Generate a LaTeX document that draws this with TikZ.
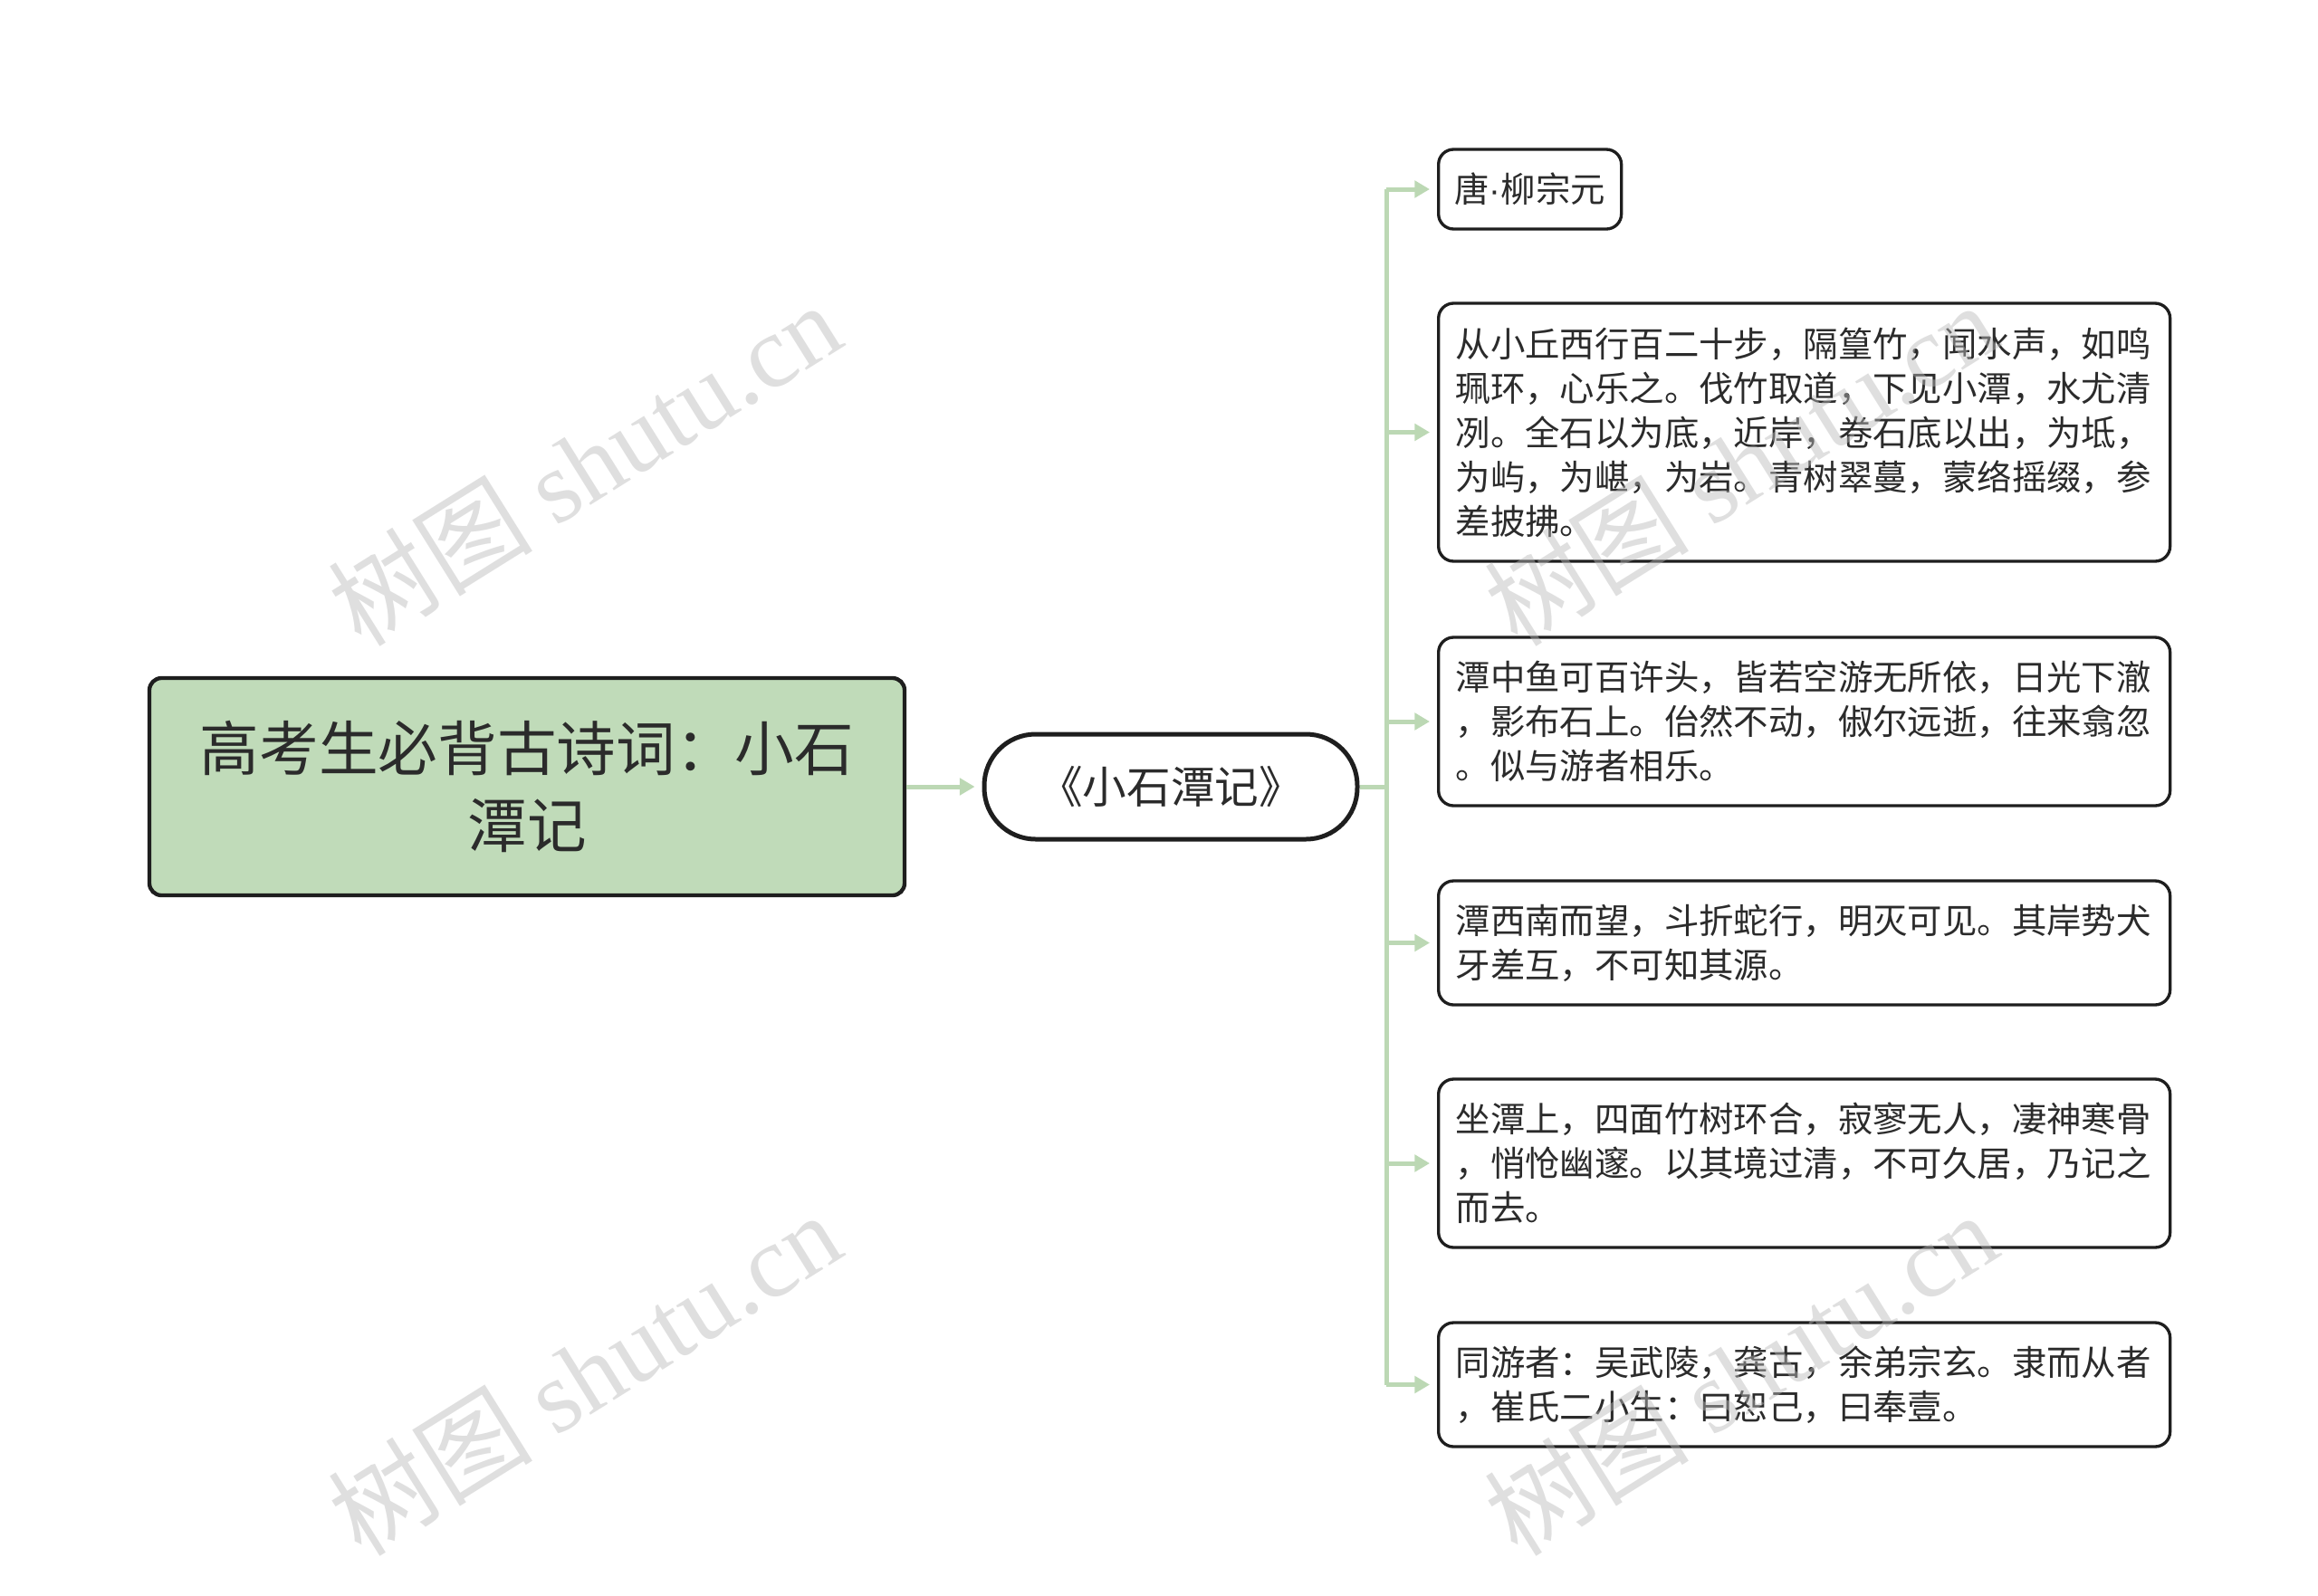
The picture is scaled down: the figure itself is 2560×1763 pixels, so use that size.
\documentclass[tikz,border=0pt]{standalone}
\usepackage{fontspec}
\setmainfont{Noto Sans CJK SC}
\newfontfamily\wmlatin{Liberation Serif}
\newfontfamily\dotfont{Liberation Sans}
\newfontfamily\wmcjk{Noto Sans CJK SC}
\usetikzlibrary{arrows.meta}
\definecolor{rootfill}{HTML}{C0DBB9}
\definecolor{connclr}{HTML}{BCD8B4}
\definecolor{txt}{HTML}{2B2B2B}
\definecolor{edge}{HTML}{1E1E1E}
\tikzset{
  rootbox/.style={draw=edge, fill=rootfill, line width=1.3pt, rounded corners=4pt,
    minimum width=250.2pt, minimum height=72pt, align=center, text=txt,
    font=\fontsize{19.7pt}{25.5pt}\selectfont},
  midbox/.style={draw=edge, fill=white, line width=1.5pt, rounded corners=17pt,
    minimum width=123.6pt, minimum height=34.8pt, align=center, text=txt,
    font=\fontsize{14.6pt}{16pt}\selectfont},
  leafbox/.style={draw=edge, fill=white, line width=1pt, rounded corners=5pt,
    anchor=west, text=txt, font=\fontsize{11.52pt}{14.7pt}\selectfont},
  parabox/.style={leafbox, text width=231pt, inner xsep=5.7pt, inner ysep=0pt, align=left},
  conn/.style={draw=connclr, line width=1.5pt},
  arr/.style={conn, -{Triangle[length=5pt,width=5.5pt]}, shorten >=2.4pt},
  wm/.style={text=gray!55, opacity=0.45, rotate=32, font=\fontsize{34pt}{40pt}\selectfont}
}
\begin{document}
\begin{tikzpicture}[x=0.3pt,y=-0.3pt]
\useasboundingbox (0,0) rectangle (2560,1763);

\node[rootbox] (root) at (582,869) {高考生必背古诗词：小石\\潭记};
\node[midbox] (mid) at (1293,869) {《小石潭记》};

\node[leafbox, minimum width=60.6pt, minimum height=26.4pt, inner xsep=4pt, align=center] (c1) at (1587,209) {唐{\dotfont ·}柳宗元};
\node[parabox, minimum height=85.5pt] (c2) at (1587,477.5) {从小丘西行百二十步，隔篁竹，闻水声，如鸣\\珮环，心乐之。伐竹取道，下见小潭，水尤清\\冽。全石以为底，近岸，卷石底以出，为坻，\\为屿，为嵁，为岩。青树翠蔓，蒙络摇缀，参\\差披拂。};
\node[parabox, minimum height=55.8pt] (c3) at (1587,797) {潭中鱼可百许头，皆若空游无所依，日光下澈\\，影布石上。佁然不动，俶尔远逝，往来翕忽\\。似与游者相乐。};
\node[parabox, minimum height=41.1pt] (c4) at (1587,1041.5) {潭西南而望，斗折蛇行，明灭可见。其岸势犬\\牙差互，不可知其源。};
\node[parabox, minimum height=55.8pt] (c5) at (1587,1285) {坐潭上，四面竹树环合，寂寥无人，凄神寒骨\\，悄怆幽邃。以其境过清，不可久居，乃记之\\而去。};
\node[parabox, minimum height=41.1pt] (c6) at (1587,1529.5) {同游者：吴武陵，龚古，余弟宗玄。隶而从者\\，崔氏二小生：曰恕己，曰奉壹。};

\coordinate (trunk) at (1531,869);
\draw[arr] (root.east) -- (mid.west);
\draw[conn] (mid.east) -- (trunk);
\draw[conn] (c1.west -| trunk) -- (c6.west -| trunk);
\foreach \c in {c1,c2,c3,c4,c5,c6}{
  \draw[arr] (\c.west -| trunk) -- (\c.west);
}

\node[wm] (w1) at (645,512) {{\wmcjk 树图} {\wmlatin shutu.cn}};
\node[wm] (w2) at (645,1517) {{\wmcjk 树图} {\wmlatin shutu.cn}};
\node[wm] (w3) at (1922,512) {{\wmcjk 树图} {\wmlatin shutu.cn}};
\node[wm] (w4) at (1922,1517) {{\wmcjk 树图} {\wmlatin shutu.cn}};
\end{tikzpicture}
\end{document}
